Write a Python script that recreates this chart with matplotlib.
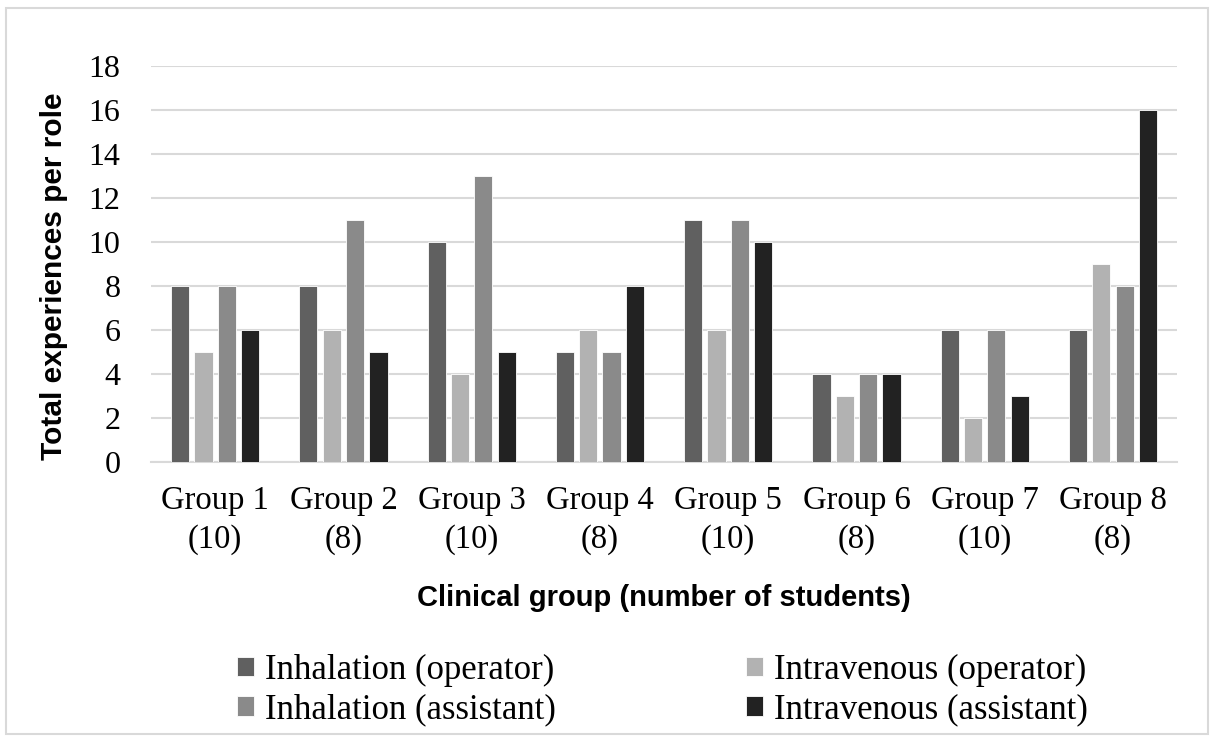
import matplotlib.pyplot as plt
import matplotlib.patches as patches
import numpy as np

groups = ["Group 1\n(10)", "Group 2\n(8)", "Group 3\n(10)", "Group 4\n(8)",
          "Group 5\n(10)", "Group 6\n(8)", "Group 7\n(10)", "Group 8\n(8)"]
series_names = ["Inhalation (operator)", "Intravenous (operator)",
                "Inhalation (assistant)", "Intravenous (assistant)"]
inhal_operator = [8, 8, 10, 5, 11, 4, 6, 6]
iv_operator = [5, 6, 4, 6, 6, 3, 2, 9]
inhal_assistant = [8, 11, 13, 5, 11, 4, 6, 8]
iv_assistant = [6, 5, 5, 8, 10, 4, 3, 16]
colors = ["#606060", "#b2b2b2", "#8a8a8a", "#222222"]

serif = "Liberation Serif"
sans = "Liberation Sans"

fig = plt.figure(figsize=(12.11, 7.36), dpi=100)
ax = fig.add_axes([0.1247, 0.3723, 0.8473, 0.538])

x = np.arange(len(groups))
pitch = 0.182
width = 0.142
all_series = [inhal_operator, iv_operator, inhal_assistant, iv_assistant]
bars = []
for i, vals in enumerate(all_series):
    b = ax.bar(x + (i - 1.5) * pitch, vals, width, color=colors[i],
               edgecolor="white", linewidth=0.6, label=series_names[i], zorder=3)
    bars.append(b)

ax.set_xlim(-0.5, 7.5)
ax.set_ylim(0, 18)
ax.set_yticks(range(0, 19, 2))
ax.yaxis.grid(True, color="#d9d9d9", linewidth=1.5, zorder=0)
for s in ["top", "right", "left"]:
    ax.spines[s].set_visible(False)
ax.spines["bottom"].set_color("#d9d9d9")
ax.spines["bottom"].set_linewidth(1.5)
ax.tick_params(axis="both", length=0)
ax.tick_params(axis="y", pad=22)
ax.tick_params(axis="x", pad=17)
ax.set_xticks(x)
ax.set_xticklabels(groups, fontfamily=serif, fontsize=23.5, linespacing=1.35)
for t in ax.get_yticklabels():
    t.set_fontfamily(serif)
    t.set_fontsize(23)

ax.set_ylabel("Total experiences per role", fontfamily=sans, fontweight="bold",
              fontsize=21.5, va="center")
ax.yaxis.set_label_coords(-0.095, 0.47)
ax.set_xlabel("Clinical group (number of students)", fontfamily=sans,
              fontweight="bold", fontsize=21, va="center")
ax.xaxis.set_label_coords(0.5, -0.343)

# row-major order like the original legend
order = [0, 2, 1, 3]
fig.legend([bars[k] for k in order], [series_names[k] for k in order],
           loc="center", bbox_to_anchor=(0.547, 0.0625), ncol=2, frameon=False,
           prop={"family": serif, "size": 25}, handlelength=0.49, handleheight=0.49,
           handletextpad=0.3, columnspacing=5.5, labelspacing=0.18)

border = patches.Rectangle((6 / 1211, 2 / 736), 1202 / 1211, 726 / 736,
                           transform=fig.transFigure, fill=False,
                           edgecolor="#d9d9d9", linewidth=1.5)
fig.patches.append(border)

fig.savefig("out.png", dpi=100, facecolor="white")
